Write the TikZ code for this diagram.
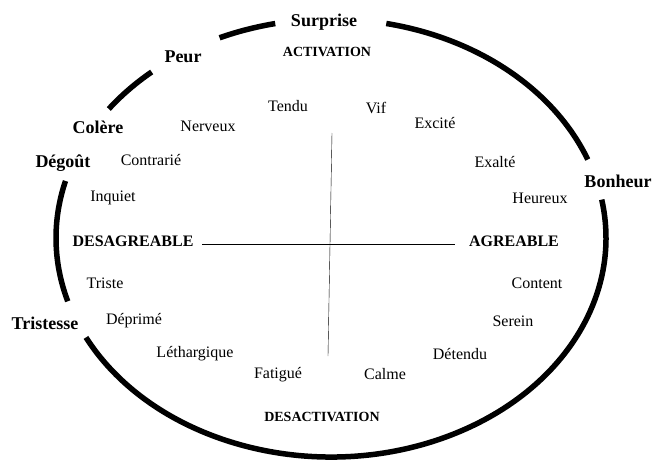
\documentclass[tikz,border=0pt]{standalone}
\usepackage{fontspec}
\setmainfont{Liberation Serif}
\begin{document}
\begin{tikzpicture}[x=1pt,y=-1pt,line join=round,font=\fontsize{16}{18}\selectfont,
emo/.style={font=\fontsize{18}{20}\selectfont\bfseries},
pole/.style={font=\fontsize{16}{18}\selectfont\bfseries},
act/.style={font=\fontsize{14}{16}\selectfont\bfseries},
contour/.style={line width=5.5pt}]
\useasboundingbox (0,0) rectangle (654,461);
% contour broken at each emotion
\coordinate (O) at (331,238);
\draw[contour] (O) ++(258.3:275 and 219) arc[start angle=258.3,end angle=246.1,x radius=275,y radius=219];
\draw[contour] (O) ++(229.3:275 and 219) arc[start angle=229.3,end angle=216.1,x radius=275,y radius=219];
\draw[contour] (O) ++(195.1:275 and 219) arc[start angle=195.1,end angle=163.2,x radius=275,y radius=219];
\draw[contour] (O) ++(153:275 and 219) arc[start angle=153,end angle=-10.1,x radius=275,y radius=219];
\draw[contour] (O) ++(-21:275 and 219) arc[start angle=-21,end angle=-78.4,x radius=275,y radius=219];
% axes
\coordinate (haut) at (332,133); \coordinate (bas) at (328,356);
\coordinate (gauche) at (202,244.5); \coordinate (droite) at (455,244.5);
\draw (haut) -- (bas);
\draw (gauche) -- (droite);
% emotions
\foreach \n/\x/\y/\t in {surprise/324/22/Surprise, peur/183/57/Peur, colere/98/127/Colère,
degout/63/163/Dégoût, bonheur/618/181/Bonheur, tristesse/45/323/Tristesse}
\node[emo] (\n) at (\x,\y) {\t};
\node[act] (activation) at (327,52) {ACTIVATION};
\node[act] (desactivation) at (322,417) {DESACTIVATION};
\node[pole] (desagreable) at (133,241) {DESAGREABLE};
\node[pole] (agreable) at (514,241) {AGREABLE};
% etats
\foreach \n/\x/\y/\t in {tendu/288/106/Tendu, nerveux/208/126/Nerveux, contrarie/151/160/Contrarié,
inquiet/113/198/Inquiet, vif/376/108/Vif, excite/435/123/Excité, exalte/495/162/Exalté,
heureux/540/198/Heureux, triste/105/283/Triste, deprime/134/321/Déprimé,
lethargique/195/354/Léthargique, fatigue/278/375/Fatigué, content/537/283/Content,
serein/513/321/Serein, detendu/460/354/Détendu, calme/385/374/Calme}
\node (\n) at (\x,\y) {\t};
\end{tikzpicture}
\end{document}
